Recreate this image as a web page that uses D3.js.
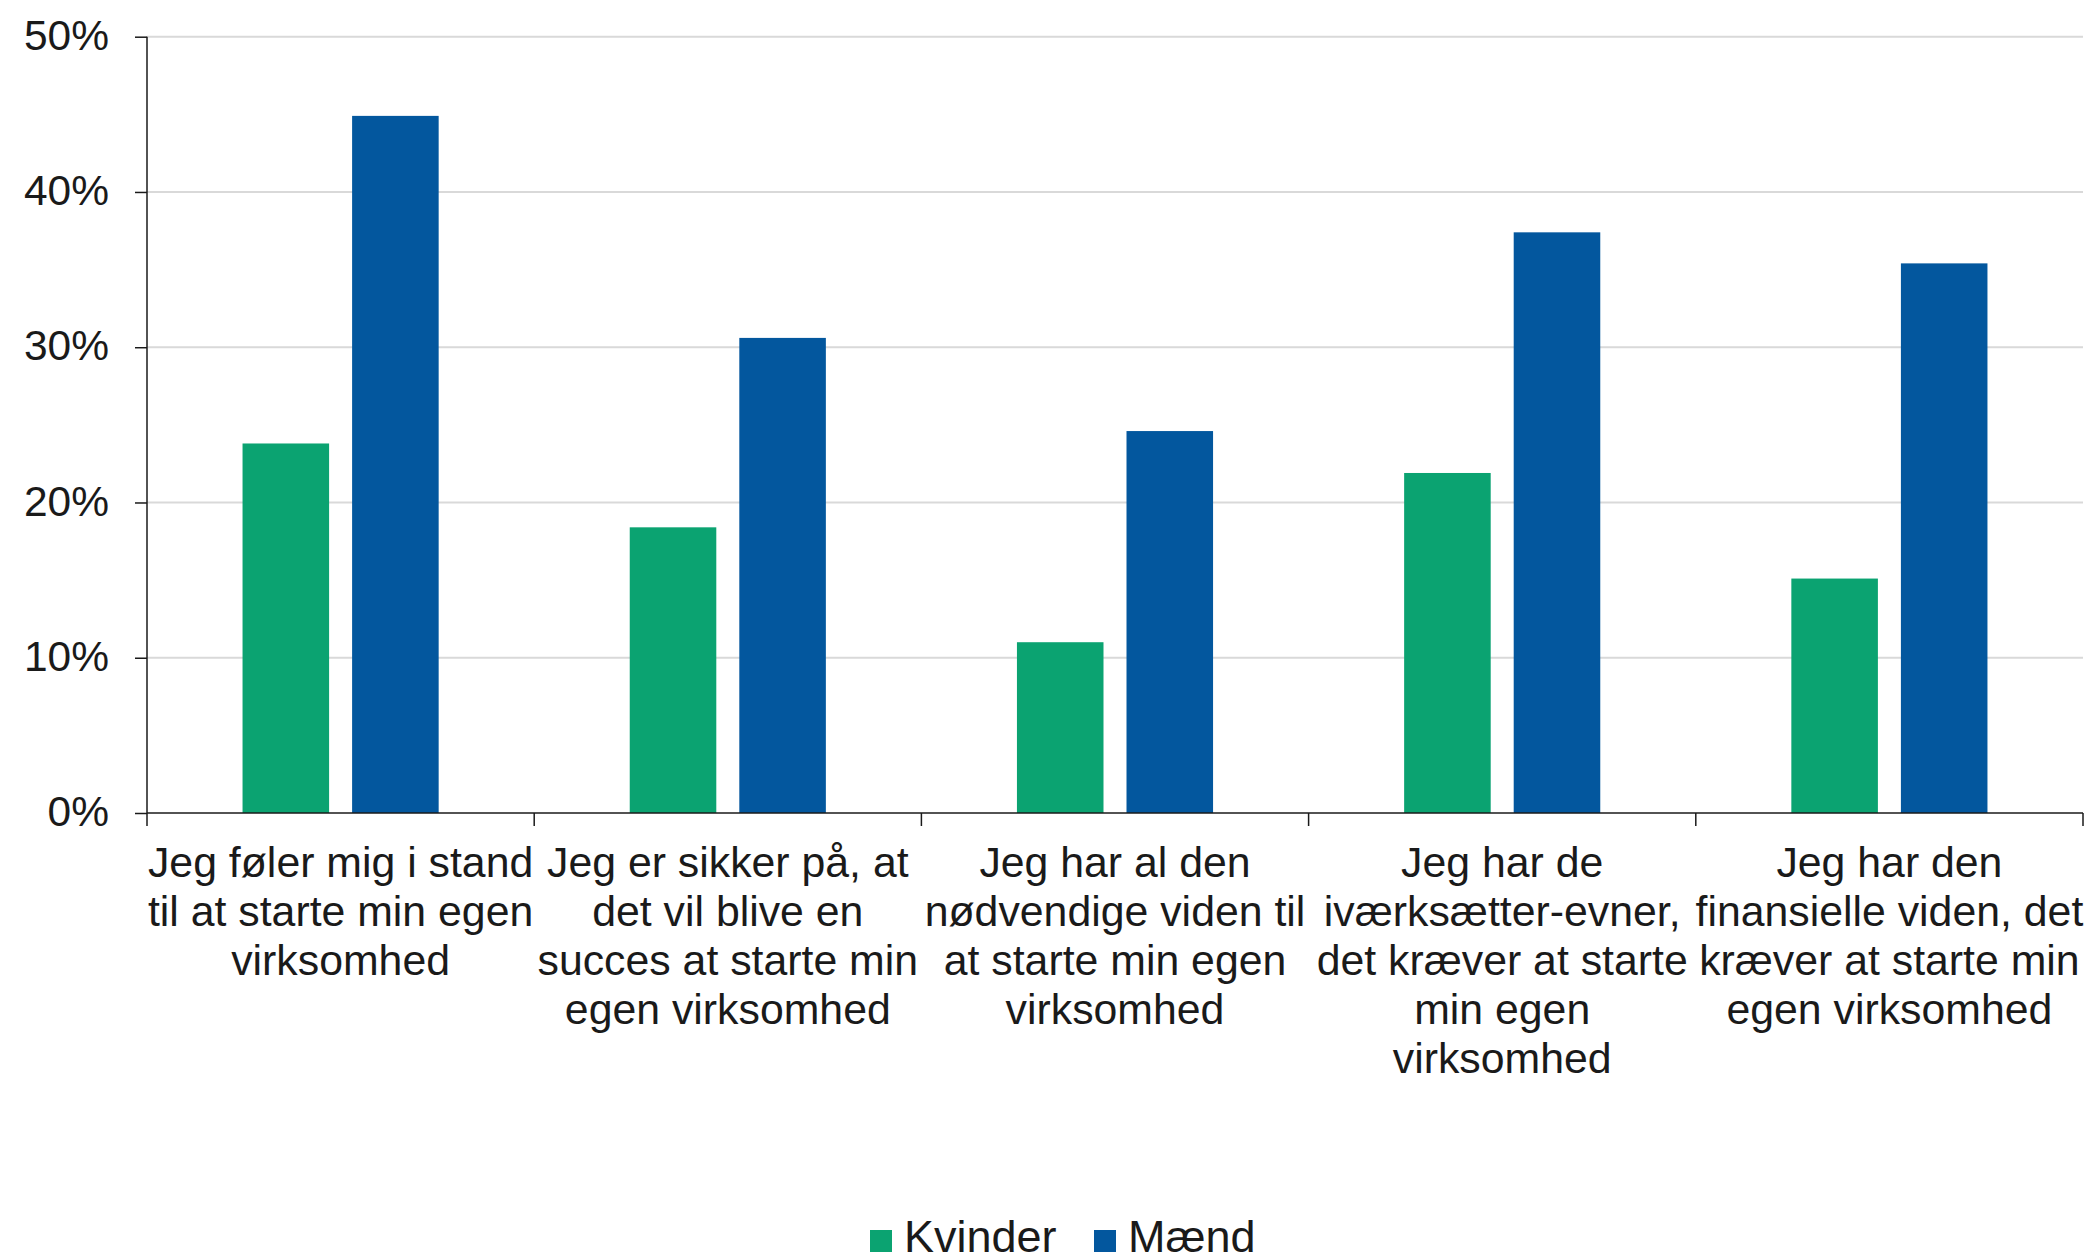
<!DOCTYPE html>
<html>
<head>
<meta charset="utf-8">
<script src="https://cdn.jsdelivr.net/npm/d3@7"></script>
<style>
  html, body { margin: 0; padding: 0; background: #fff; }
  svg { display: block; font-family: "Liberation Sans", Arial, sans-serif; }
</style>
</head>
<body>
<script>
const categories = [
  ["Jeg føler mig i stand", "til at starte min egen", "virksomhed"],
  ["Jeg er sikker på, at", "det vil blive en", "succes at starte min", "egen virksomhed"],
  ["Jeg har al den", "nødvendige viden til", "at starte min egen", "virksomhed"],
  ["Jeg har de", "iværksætter-evner,", "det kræver at starte", "min egen", "virksomhed"],
  ["Jeg har den", "finansielle viden, det", "kræver at starte min", "egen virksomhed"]
];
const seriesNames = ["Kvinder", "Mænd"];
const kvinder = [23.8, 18.4, 11.0, 21.9, 15.1];
const maend = [44.9, 30.6, 24.6, 37.4, 35.4];
const yTicks = [0, 10, 20, 30, 40, 50];
const colors = ["#0ba371", "#03579e"];

const W = 2094, H = 1256;
const mLeft = 147, mRight = 2083, mTop = 36.7, mBottom = 813;

const svg = d3.select("body").append("svg").attr("width", W).attr("height", H);

const idx = d3.range(categories.length);
const x0 = d3.scaleBand().domain(idx).range([mLeft, mRight]).paddingInner(0).paddingOuter(0);
const x1 = d3.scaleBand().domain(seriesNames).range([0, x0.bandwidth()]).paddingInner(0.21).paddingOuter(0.872);
const y = d3.scaleLinear().domain([0, 50]).range([mBottom, mTop]);

// gridlines
svg.append("g").selectAll("line").data(yTicks.filter(d => d > 0)).join("line")
  .attr("x1", mLeft).attr("x2", mRight)
  .attr("y1", d => y(d)).attr("y2", d => y(d))
  .attr("stroke", "#d9d9d9").attr("stroke-width", 2);

// bars
const data = idx.map(i => [
  {s: seriesNames[0], v: kvinder[i], c: colors[0]},
  {s: seriesNames[1], v: maend[i], c: colors[1]}
]);
svg.append("g").selectAll("g").data(data).join("g")
  .attr("transform", (d, i) => `translate(${x0(i)},0)`)
  .selectAll("rect").data(d => d).join("rect")
  .attr("x", d => x1(d.s)).attr("width", x1.bandwidth())
  .attr("y", d => y(d.v)).attr("height", d => y(0) - y(d.v))
  .attr("fill", d => d.c);

// y axis
const yAxis = d3.axisLeft(y).tickValues(yTicks).tickFormat(d => d + "%").tickSize(12).tickPadding(26);
const gy = svg.append("g").attr("transform", `translate(${mLeft},0)`).call(yAxis);
gy.select(".domain").attr("stroke", "#1a1a1a").attr("stroke-width", 1.5).attr("d", `M0,${mTop}V${mBottom}`);
gy.selectAll(".tick line").attr("stroke", "#1a1a1a").attr("stroke-width", 1.5);
gy.selectAll(".tick text").attr("font-size", 42.5).attr("fill", "#1a1a1a").attr("dy", "0.3em")
  .style("font-family", "'Liberation Sans', Arial, sans-serif");

// x axis line with ticks at band boundaries
const bounds = idx.map(i => x0(i)).concat([mRight]);
const gx = svg.append("g");
gx.append("line").attr("x1", mLeft).attr("x2", mRight).attr("y1", mBottom).attr("y2", mBottom)
  .attr("stroke", "#1a1a1a").attr("stroke-width", 1.5);
gx.selectAll("line.tk").data(bounds).join("line").attr("class", "tk")
  .attr("x1", d => d).attr("x2", d => d).attr("y1", mBottom).attr("y2", mBottom + 13)
  .attr("stroke", "#1a1a1a").attr("stroke-width", 1.5);

// category labels
const lab = svg.append("g").selectAll("text").data(categories).join("text")
  .attr("text-anchor", "middle").attr("font-size", 42.8).attr("fill", "#1a1a1a")
  .attr("transform", (d, i) => `translate(${x0(i) + x0.bandwidth() / 2},877)`);
lab.selectAll("tspan").data(d => d).join("tspan")
  .attr("x", 0).attr("y", (d, j) => j * 49).text(d => d);

// legend
const legend = svg.append("g");
const legX = [870, 1094];
seriesNames.forEach((s, i) => {
  legend.append("rect").attr("x", legX[i]).attr("y", 1230).attr("width", 22).attr("height", 22).attr("fill", colors[i]);
  legend.append("text").attr("x", legX[i] + 34).attr("y", 1252).attr("font-size", 45).attr("fill", "#1a1a1a").text(s);
});
</script>
</body>
</html>
